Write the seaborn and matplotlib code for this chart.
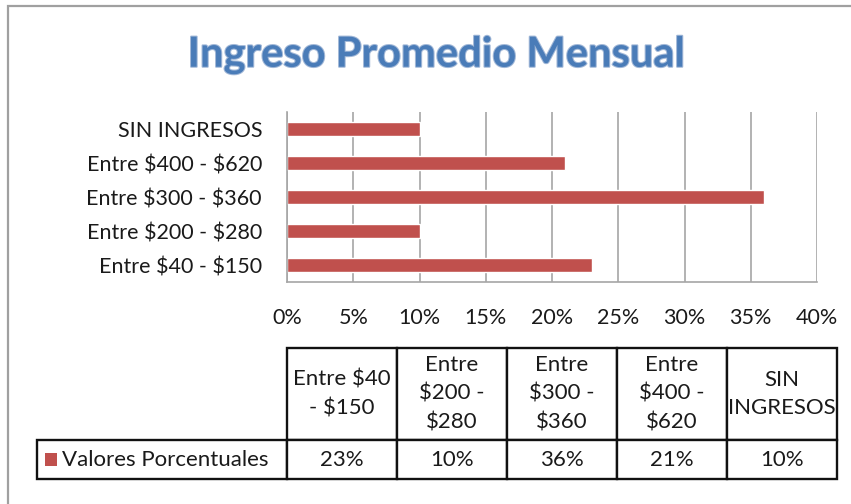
import matplotlib
matplotlib.use("Agg")
import matplotlib.pyplot as plt
import matplotlib.patches as patches
import matplotlib.patheffects as pe
from matplotlib.ticker import FuncFormatter
import seaborn as sns

categories = ["Entre $40 - $150", "Entre $200 - $280", "Entre $300 - $360",
              "Entre $400 - $620", "SIN INGRESOS"]
header_labels = ["Entre $40\n- $150", "Entre\n$200 -\n$280", "Entre\n$300 -\n$360",
                 "Entre\n$400 -\n$620", "SIN\nINGRESOS"]
values = [23, 10, 36, 21, 10]
series_name = "Valores Porcentuales"
x_ticks = [0, 5, 10, 15, 20, 25, 30, 35, 40]

bar_color = "#C0504D"
grid_color = "#A6A6A6"
text_color = "#1a1a1a"

sns.set_theme(style="white")
plt.rcParams["font.family"] = ["Lato", "DejaVu Sans"]
plt.rcParams["text.color"] = text_color
plt.rcParams["text.parse_math"] = False  # labels contain dollar signs

W, H = 851, 504
fig = plt.figure(figsize=(W / 100, H / 100), dpi=100)

# outer chart border (only top and left visible in the reference)
fig.patches.append(patches.Rectangle((8 / W, -0.1), 1.2, 1 - 6 / H + 0.1, transform=fig.transFigure,
                                     fill=False, edgecolor="#A0A0A0", linewidth=1.6))

ax = fig.add_axes([287 / W, 1 - 282 / H, (817 - 287) / W, (282 - 112) / H])
sns.barplot(x=values, y=categories, order=categories[::-1], orient="h",
            color=bar_color, saturation=1, width=0.4, ax=ax)
ax.set_xlim(0, 40)
ax.set_xticks(x_ticks)
ax.xaxis.set_major_formatter(FuncFormatter(lambda v, p: f"{v:.0f}%"))
ax.grid(axis="x", color=grid_color, linewidth=1.2)
ax.set_axisbelow(True)
for s in ["top", "right"]:
    ax.spines[s].set_visible(False)
for s in ["left", "bottom"]:
    ax.spines[s].set_color(grid_color)
    ax.spines[s].set_linewidth(1.2)
ax.tick_params(axis="x", length=0, pad=19, labelsize=15.5, labelcolor=text_color)
ax.tick_params(axis="y", length=0, pad=18, labelsize=15.5, labelcolor=text_color)
ax.set_xlabel("")
ax.set_ylabel("")

fig.text(436 / W, 1 - 55 / H, "Ingreso Promedio Mensual", ha="center", va="center",
         fontsize=30, fontweight="bold", color="#4A7CB8",
         path_effects=[pe.withStroke(linewidth=1.5, foreground="#A3B9D8")])

# data table below the chart
tax = fig.add_axes([37 / W, 1 - 479 / H, 800 / W, (479 - 348) / H])
tax.axis("off")
cell_text = [[""] + header_labels, [series_name] + [f"{v}%" for v in values]]
tbl = tax.table(cellText=cell_text, colWidths=[250 / 800] + [110 / 800] * 5,
                cellLoc="center", bbox=[0, 0, 1, 1])
tbl.auto_set_font_size(False)
tbl.set_fontsize(16)
for (r, c), cell in tbl.get_celld().items():
    cell.set_edgecolor("#111111")
    cell.set_linewidth(1.7)
    cell.set_height(92 if r == 0 else 39)
    cell.get_text().set_color(text_color)
    cell.get_text().set_linespacing(1.55)
    if c == 0:
        cell._loc = "left"
        cell.get_text().set_ha("left")
        if r == 0:
            cell.visible_edges = ""

fig.patches.append(patches.Rectangle((45 / W, 1 - 466 / H), 12 / W, 13 / H,
                                     transform=fig.transFigure, facecolor=bar_color,
                                     edgecolor="none"))

fig.savefig("out.png", dpi=100)
